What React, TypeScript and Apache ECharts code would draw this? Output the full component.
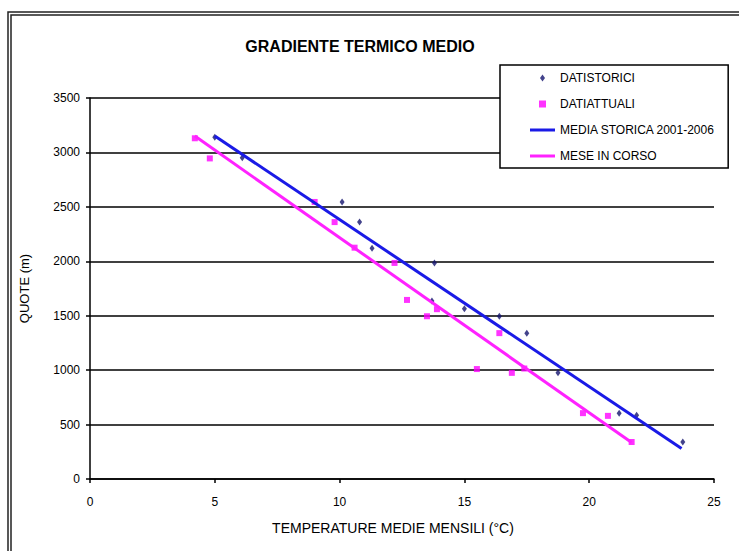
import React, { useEffect, useRef } from "react";
import * as echarts from "echarts";

const TITLE = "GRADIENTE TERMICO MEDIO";
const X_NAME = "TEMPERATURE MEDIE MENSILI (°C)";
const Y_NAME = "QUOTE (m)";
const SERIES_NAMES = ["DATISTORICI", "DATIATTUALI", "MEDIA STORICA 2001-2006", "MESE IN CORSO"];

const storici: [number, number][] = [
  [5.0, 3140], [6.1, 2950], [10.1, 2545], [10.8, 2360], [11.3, 2120],
  [13.8, 1985], [13.7, 1635], [15.0, 1565], [16.4, 1495], [17.5, 1340],
  [18.75, 975], [21.2, 605], [21.9, 585], [23.75, 340],
];
const attuali: [number, number][] = [
  [4.2, 3130], [4.8, 2945], [9.0, 2545], [9.8, 2360], [10.6, 2125],
  [12.2, 1985], [12.7, 1645], [13.9, 1560], [13.5, 1495], [16.4, 1340],
  [15.5, 1010], [16.9, 975], [17.4, 1015], [19.75, 605], [20.75, 580], [21.7, 340],
];
const mediaStorica: [number, number][] = [[5.0, 3151], [23.7, 280]];
const meseInCorso: [number, number][] = [[4.2, 3150], [21.7, 335]];

const FONT = '"Liberation Sans", Arial, sans-serif';

const COLOR_STORICI = "#14146e";
const COLOR_ATTUALI = "#ff00ff";
const COLOR_MEDIA = "#1a1ae6";
const COLOR_MESE = "#ff22ff";

export default function App() {
  const ref = useRef<HTMLDivElement>(null);
  useEffect(() => {
    document.body.style.margin = "0";
    if (!ref.current) return;
    const chart = echarts.init(ref.current, null, { renderer: "svg" });
    chart.setOption({
      animation: false,
      backgroundColor: "#ffffff",
      title: {
        text: TITLE,
        left: 355,
        textAlign: "center",
        top: 33,
        textStyle: { fontFamily: FONT, fontSize: 16, fontWeight: "bold", color: "#000" },
      },
      legend: {
        orient: "vertical",
        left: 500,
        top: 65,
        padding: [6, 13, 5, 30],
        itemWidth: 25,
        itemHeight: 7,
        itemGap: 12,
        symbolKeepAspect: true,
        backgroundColor: "#ffffff",
        borderColor: "#000",
        borderWidth: 1.5,
        textStyle: { fontFamily: FONT, fontSize: 12, color: "#000", lineHeight: 14 },
        data: [
          { name: SERIES_NAMES[0], icon: "path://M5,0L10,7L5,14L0,7Z", itemStyle: { color: COLOR_STORICI } },
          { name: SERIES_NAMES[1], icon: "path://M0,0H10V10H0Z", itemStyle: { color: COLOR_ATTUALI } },
          { name: SERIES_NAMES[2], icon: "path://M0,0H25V3H0Z", itemStyle: { color: COLOR_MEDIA } },
          { name: SERIES_NAMES[3], icon: "path://M0,0H25V3H0Z", itemStyle: { color: COLOR_MESE } },
        ],
      },
      grid: { left: 90, right: 25, top: 98, bottom: 72 },
      xAxis: {
        type: "value",
        min: 0,
        max: 25,
        interval: 5,
        name: X_NAME,
        nameLocation: "middle",
        nameGap: 42,
        nameTextStyle: { fontFamily: FONT, fontSize: 14, color: "#000", padding: [0, 18, 0, 0] },
        axisLine: { lineStyle: { color: "#000", width: 1.5 } },
        axisTick: { show: true, length: 4, lineStyle: { color: "#000", width: 1.5 } },
        axisLabel: { fontFamily: FONT, fontSize: 12, color: "#000", margin: 17 },
        splitLine: { show: false },
      },
      yAxis: {
        type: "value",
        min: 0,
        max: 3500,
        interval: 500,
        name: Y_NAME,
        nameLocation: "middle",
        nameGap: 59,
        nameRotate: 90,
        nameTextStyle: { fontFamily: FONT, fontSize: 13, color: "#000" },
        axisLine: { show: true, lineStyle: { color: "#000", width: 1.5 } },
        axisTick: { show: true, length: 4, lineStyle: { color: "#000", width: 1.5 } },
        axisLabel: {
          fontFamily: FONT,
          fontSize: 12,
          color: "#000",
          margin: 10,
          formatter: (v: number) => String(v),
        },
        splitLine: { show: true, lineStyle: { color: "#000", width: 1.5 } },
      },
      series: [
        {
          name: SERIES_NAMES[0],
          type: "scatter",
          data: storici,
          symbol: "diamond",
          symbolSize: [5, 7],
          itemStyle: { color: COLOR_STORICI },
          z: 3,
        },
        {
          name: SERIES_NAMES[1],
          type: "scatter",
          data: attuali,
          symbol: "rect",
          symbolSize: 6,
          itemStyle: { color: COLOR_ATTUALI },
          z: 3,
        },
        {
          name: SERIES_NAMES[2],
          type: "line",
          data: mediaStorica,
          symbol: "none",
          lineStyle: { color: COLOR_MEDIA, width: 3 },
          itemStyle: { color: COLOR_MEDIA },
          z: 4,
        },
        {
          name: SERIES_NAMES[3],
          type: "line",
          data: meseInCorso,
          symbol: "none",
          lineStyle: { color: COLOR_MESE, width: 3 },
          itemStyle: { color: COLOR_MESE },
          z: 4,
        },
      ],
      graphic: [
        {
          type: "rect",
          shape: { x: 8, y: 12, width: 760, height: 580 },
          style: { fill: "none", stroke: "#222", lineWidth: 1.5 },
          silent: true,
        },
        {
          type: "rect",
          shape: { x: 11, y: 15, width: 760, height: 580 },
          style: { fill: "none", stroke: "#222", lineWidth: 1.5 },
          silent: true,
        },
      ],
    });
    return () => chart.dispose();
  }, []);
  return <div ref={ref} style={{ width: 739, height: 551 }} />;
}
